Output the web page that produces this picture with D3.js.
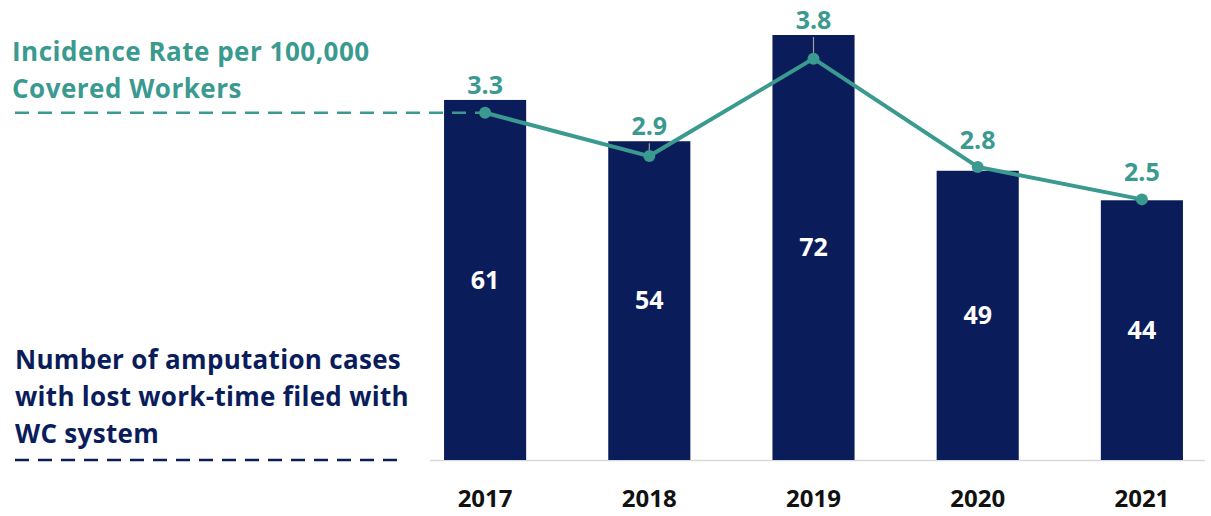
<!DOCTYPE html>
<html>
<head>
<meta charset="utf-8">
<script src="https://cdn.jsdelivr.net/npm/d3@7"></script>
<style>
  body { margin: 0; background: #fff; }
  svg text { font-family: "Open Sans", Lato, sans-serif; font-weight: 700; }
</style>
</head>
<body>
<div id="chart"></div>
<script>
const years = ["2017", "2018", "2019", "2020", "2021"];
const cases = [61, 54, 72, 49, 44];
const rates = [3.3, 2.9, 3.8, 2.8, 2.5];
const rateTitle = ["Incidence Rate per 100,000", "Covered Workers"];
const caseTitle = ["Number of amputation cases", "with lost work-time filed with", "WC system"];

const navy = "#0a1d5a", teal = "#3a9a90";
const width = 1211, height = 516;

const svg = d3.select("#chart")
  .append("svg")
    .attr("width", width)
    .attr("height", height);

// x scale for the bars
const x = d3.scaleBand()
  .domain(years)
  .range([403, 1224])
  .paddingInner(0.5)
  .paddingOuter(0.25);
const cx = i => x(years[i]) + x.bandwidth() / 2;

// bars (cases)
const y = d3.scaleLinear().domain([0, 72]).range([460, 35]);
// line (rate)
const y2 = d3.scaleLinear().domain([0, 4]).range([470, 37]);

// label baseline: above the point, but kept clear of the bar top
const labelY = i => Math.min(y2(rates[i]) - 18, y(cases[i]) - 6);

// baseline
svg.append("line")
  .attr("x1", 430).attr("x2", 1205)
  .attr("y1", y(0) + 0.5).attr("y2", y(0) + 0.5)
  .attr("stroke", "#d9d9d9").attr("stroke-width", 1.5);

svg.selectAll("rect.bar")
  .data(cases)
  .join("rect")
    .attr("class", "bar")
    .attr("x", (d, i) => x(years[i]))
    .attr("y", d => y(d))
    .attr("width", x.bandwidth())
    .attr("height", d => y(0) - y(d))
    .attr("fill", navy);

svg.selectAll("text.case")
  .data(cases)
  .join("text")
    .attr("class", "case")
    .attr("x", (d, i) => cx(i))
    .attr("y", d => (y(d) + y(0)) / 2)
    .attr("dy", "0.35em")
    .attr("text-anchor", "middle")
    .attr("fill", "#fff")
    .attr("font-size", 25)
    .text(d => d);

// axis labels
svg.selectAll("text.year")
  .data(years)
  .join("text")
    .attr("class", "year")
    .attr("x", d => x(d) + x.bandwidth() / 2)
    .attr("y", 507)
    .attr("text-anchor", "middle")
    .attr("fill", "#111")
    .attr("font-size", 24)
    .text(d => d);

// dashed guides
svg.append("line")
  .attr("x1", 15).attr("x2", cx(0))
  .attr("y1", y2(rates[0])).attr("y2", y2(rates[0]))
  .attr("stroke", teal).attr("stroke-width", 2.5)
  .attr("stroke-dasharray", "14,9");

svg.append("line")
  .attr("x1", 15).attr("x2", 405)
  .attr("y1", y(0)).attr("y2", y(0))
  .attr("stroke", navy).attr("stroke-width", 2.5)
  .attr("stroke-dasharray", "14,9");

// small leader ticks where the label was pushed up
svg.selectAll("line.lead")
  .data([1, 2])
  .join("line")
    .attr("class", "lead")
    .attr("x1", i => cx(i))
    .attr("x2", i => cx(i))
    .attr("y1", i => labelY(i) + 8)
    .attr("y2", i => y2(rates[i]))
    .attr("stroke", "#a0a0a0").attr("stroke-width", 1.2);

// rate line
svg.append("path")
  .datum(rates)
  .attr("fill", "none")
  .attr("stroke", teal)
  .attr("stroke-width", 4)
  .attr("d", d3.line()
    .x((d, i) => cx(i))
    .y(d => y2(d)));

svg.selectAll("circle.pt")
  .data(rates)
  .join("circle")
    .attr("class", "pt")
    .attr("cx", (d, i) => cx(i))
    .attr("cy", d => y2(d))
    .attr("r", 6)
    .attr("fill", teal);

svg.selectAll("text.rate")
  .data(rates)
  .join("text")
    .attr("class", "rate")
    .attr("x", (d, i) => cx(i))
    .attr("y", (d, i) => labelY(i))
    .attr("text-anchor", "middle")
    .attr("fill", teal)
    .attr("font-size", 25)
    .text(d => d.toFixed(1));

// left-side series titles
svg.selectAll("text.rtitle")
  .data(rateTitle)
  .join("text")
    .attr("class", "rtitle")
    .attr("x", 12)
    .attr("y", (d, i) => 61 + i * 37)
    .attr("fill", teal)
    .attr("font-size", 26)
    .attr("letter-spacing", 0.5)
    .text(d => d);

svg.selectAll("text.ctitle")
  .data(caseTitle)
  .join("text")
    .attr("class", "ctitle")
    .attr("x", 15)
    .attr("y", (d, i) => 369 + i * 37)
    .attr("fill", navy)
    .attr("font-size", 26)
    .attr("letter-spacing", 0.3)
    .text(d => d);
</script>
</body>
</html>
